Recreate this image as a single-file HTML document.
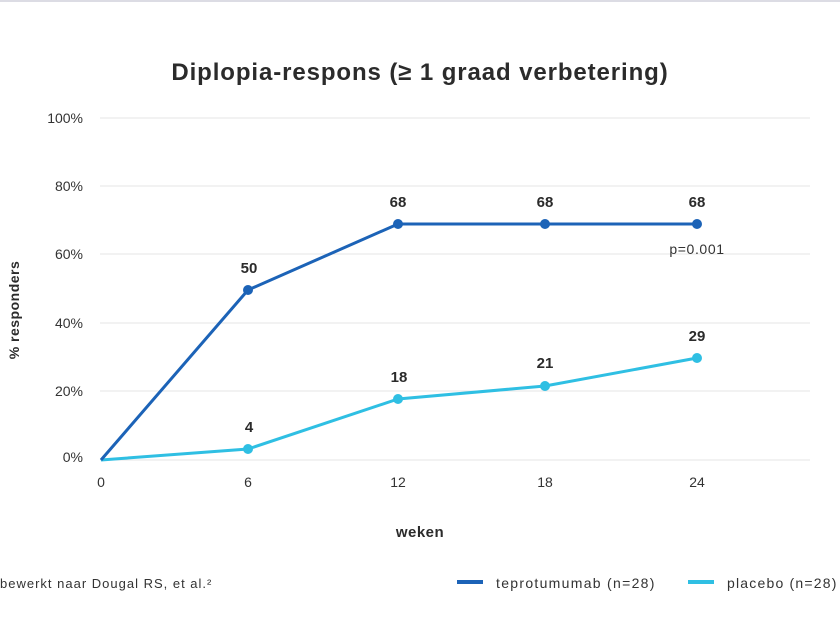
<!DOCTYPE html>
<html><head><meta charset="utf-8"><style>
html,body{margin:0;padding:0;background:#fff;}
svg{display:block;font-family:"Liberation Sans",sans-serif;}
</style></head><body>
<svg width="840" height="622" viewBox="0 0 840 622" xmlns="http://www.w3.org/2000/svg">
<rect x="0" y="0" width="840" height="2" fill="#dcdce4"/>
<text x="420" y="80" text-anchor="middle" font-size="24" font-weight="bold" fill="#2b2b2b" letter-spacing="0.9">Diplopia-respons (≥ 1 graad verbetering)</text>
<g stroke="#e4e4e4" stroke-width="1">
<line x1="100" y1="118" x2="810" y2="118"/>
<line x1="100" y1="186" x2="810" y2="186"/>
<line x1="100" y1="254" x2="810" y2="254"/>
<line x1="100" y1="323" x2="810" y2="323"/>
<line x1="100" y1="391" x2="810" y2="391"/>
<line x1="100" y1="460" x2="810" y2="460"/>
</g>
<g font-size="14" fill="#333" text-anchor="end">
<text x="83" y="123">100%</text>
<text x="83" y="191">80%</text>
<text x="83" y="259">60%</text>
<text x="83" y="328">40%</text>
<text x="83" y="396">20%</text>
<text x="83" y="462">0%</text>
</g>
<g font-size="14" fill="#333" text-anchor="middle">
<text x="101" y="487">0</text>
<text x="248" y="487">6</text>
<text x="398" y="487">12</text>
<text x="545" y="487">18</text>
<text x="697" y="487">24</text>
</g>
<text x="420" y="537" text-anchor="middle" font-size="15" font-weight="bold" fill="#2b2b2b" letter-spacing="0.5">weken</text>
<text transform="translate(19,310) rotate(-90)" text-anchor="middle" font-size="14" font-weight="bold" fill="#2b2b2b" letter-spacing="0.5">% responders</text>
<polyline points="101,460 248,449 398,399 545,386 697,358" fill="none" stroke="#2fbfe3" stroke-width="3"/>
<polyline points="101,460 248,290 398,224 545,224 697,224" fill="none" stroke="#1c63b7" stroke-width="3"/>
<g fill="#1c63b7"><circle cx="248" cy="290" r="5"/><circle cx="398" cy="224" r="5"/><circle cx="545" cy="224" r="5"/><circle cx="697" cy="224" r="5"/></g>
<g fill="#2fbfe3"><circle cx="248" cy="449" r="5"/><circle cx="398" cy="399" r="5"/><circle cx="545" cy="386" r="5"/><circle cx="697" cy="358" r="5"/></g>
<g font-size="15" font-weight="bold" fill="#2b2b2b" text-anchor="middle">
<text x="249" y="273">50</text>
<text x="398" y="207">68</text>
<text x="545" y="207">68</text>
<text x="697" y="207">68</text>
<text x="249" y="432">4</text>
<text x="399" y="382">18</text>
<text x="545" y="368">21</text>
<text x="697" y="341">29</text>
</g>
<text x="697" y="254" text-anchor="middle" font-size="14" fill="#333" letter-spacing="0.6">p=0.001</text>
<text x="0" y="588" font-size="13" fill="#333" letter-spacing="1">bewerkt naar Dougal RS, et al.²</text>
<rect x="457" y="580" width="26" height="4" fill="#1c63b7"/>
<text x="496" y="588" font-size="14" fill="#333" letter-spacing="1.3">teprotumumab (n=28)</text>
<rect x="688" y="580" width="26" height="4" fill="#2fbfe3"/>
<text x="727" y="588" font-size="14" fill="#333" letter-spacing="1.2">placebo (n=28)</text>
</svg>
</body></html>
